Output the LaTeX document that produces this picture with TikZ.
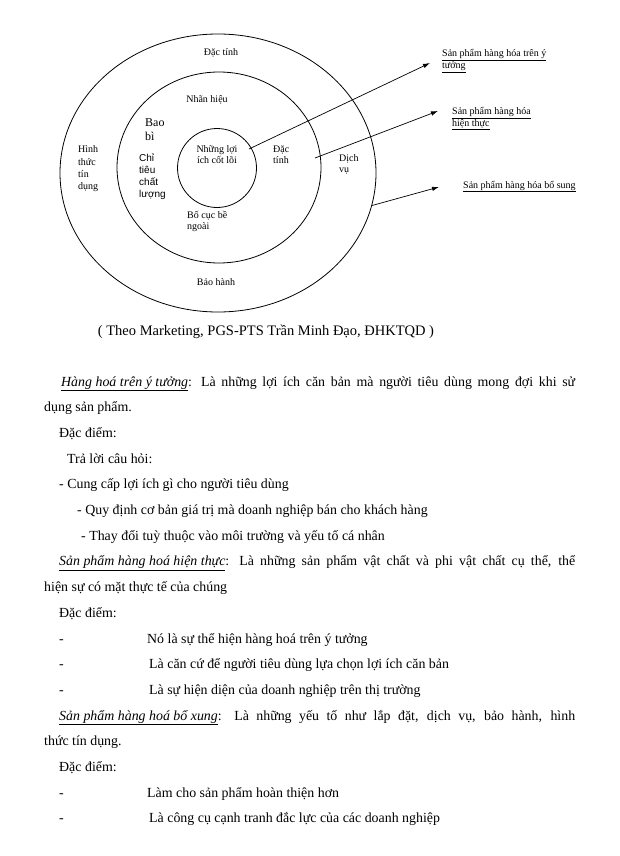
\documentclass[tikz,border=0pt]{standalone}
\usepackage{fontspec}
\setmainfont{Liberation Serif}
\newfontfamily\arialfont{Liberation Sans}
\usetikzlibrary{arrows.meta,shapes.geometric,positioning}

\newcommand{\bodyfont}{\fontsize{13.9}{17}\selectfont}
\newcommand{\diagfont}{\fontsize{10}{11.5}\selectfont}

\begin{document}
\begin{tikzpicture}[x=1pt, y=-1pt,
	ring/.style={draw, line width=0.8pt, inner sep=0pt, outer sep=0pt},
	lbl/.style={font=\diagfont, inner sep=0pt, align=left},
	pointer/.style={-{Latex[length=7pt, width=4.5pt]}, line width=0.7pt},
	txt/.style={anchor=base west, inner sep=0pt, font=\bodyfont}]
	\useasboundingbox (0,0) rectangle (620,856);
	% ba vòng sản phẩm
	\node[ring, ellipse, minimum width=316pt, minimum height=278pt] (outer) at (218,173) {};
	\node[ring, ellipse, minimum width=204pt, minimum height=191pt] (middle) at (219,167.5) {};
	\node[ring, circle, minimum size=79pt] (core) at (217,168) {};
	% nhãn trong sơ đồ (base = dòng cuối)
	\node[lbl] (dactinh1) at (221,53) {Đặc tính};
	\node[lbl] (nhanhieu) at (207,100) {Nhãn hiệu};
	\node[lbl, anchor=base west, font=\fontsize{12}{14}\selectfont] (baobi) at (145,140) {Bao\\bì};
	\node[lbl, anchor=base west, font=\arialfont\fontsize{10}{12}\selectfont] (chitieu) at (139,197) {Chỉ\\tiêu\\chất\\lượng};
	\node[lbl, anchor=base west, font=\fontsize{10}{12}\selectfont] (hinhthuc) at (78,189) {Hình\\thức\\tín\\dụng};
	\node[lbl, anchor=base, align=center] (loiich) at (217,163.5) {Những lợi\\ích cốt lõi};
	\node[lbl, anchor=base west] (dactinh2) at (273,163.5) {Đặc\\tính};
	\node[lbl, anchor=base west] (dichvu) at (339,172.5) {Dịch\\vụ};
	\node[lbl, anchor=base west] (bocuc) at (187,229.5) {Bố cục bề\\ngoài};
	\node[lbl] (baohanh) at (216,282) {Bảo hành};
	% chú thích bên phải
	\node[lbl, anchor=base west] (ytuong) at (442,68.5) {\underline{Sản phẩm hàng hóa trên ý}\\\underline{tưởng}};
	\node[lbl, anchor=base west] (hienthuc) at (452,126.5) {\underline{Sản phẩm hàng hóa}\\\underline{hiện thực}};
	\node[lbl, anchor=base west] (bosung) at (463,188) {\underline{Sản phẩm hàng hóa bổ sung}};
	\coordinate (s1) at (249,149);
	\coordinate (s2) at (315,158);
	\coordinate (t1) at (430,63);
	\coordinate (t2) at (438,111);
	\coordinate (t3) at (439,187);
	\draw[pointer] (s1) -- (t1);
	\draw[pointer] (s2) -- (t2);
	\draw[pointer] (outer.-12) -- (t3);
	% nguồn
	\node[font=\fontsize{14.5}{17}\selectfont, inner sep=0pt] (nguon) at (266,332) {( Theo Marketing, PGS-PTS Trần Minh Đạo, ĐHKTQD )};
	% phần văn bản
	\node[txt] (l1) at (61,386) {\makebox[514pt][s]{\underline{\textit{Hàng hoá trên ý tưởng}}: Là những lợi ích căn bản mà người tiêu dùng mong đợi khi sử}};
	\node[txt] (l2) at (44,411.7) {dụng sản phẩm.};
	\node[txt] (l3) at (59,437.4) {Đặc điểm:};
	\node[txt] (l4) at (67,463.1) {Trả lời câu hỏi:};
	\node[txt] (l5) at (59,488.8) {- Cung cấp lợi ích gì cho người tiêu dùng};
	\node[txt] (l6) at (77,514.5) {- Quy định cơ bản giá trị mà doanh nghiệp bán cho khách hàng};
	\node[txt] (l7) at (81,540.2) {- Thay đổi tuỳ thuộc vào môi trường và yếu tố cá nhân};
	\node[txt] (l8) at (59,565.9) {\makebox[516pt][s]{\underline{\textit{Sản phẩm hàng hoá hiện thực}}: Là những sản phẩm vật chất và phi vật chất cụ thể, thể}};
	\node[txt] (l9) at (44,591.6) {hiện sự có mặt thực tế của chúng};
	\node[txt] (l10) at (59,617.3) {Đặc điểm:};
	\node[txt] (d11) at (59,643) {-};
	\node[txt] (l11) at (147,643) {Nó là sự thể hiện hàng hoá trên ý tưởng};
	\node[txt] (d12) at (59,668.7) {-};
	\node[txt] (l12) at (149,668.7) {Là căn cứ để người tiêu dùng lựa chọn lợi ích căn bản};
	\node[txt] (d13) at (59,694.4) {-};
	\node[txt] (l13) at (149,694.4) {Là sự hiện diện của doanh nghiệp trên thị trường};
	\node[txt] (l14) at (59,720.1) {\makebox[516pt][s]{\underline{\textit{Sản phẩm hàng hoá bổ xung}}: Là những yếu tố như lắp đặt, dịch vụ, bảo hành, hình}};
	\node[txt] (l15) at (44,745.8) {thức tín dụng.};
	\node[txt] (l16) at (59,771.5) {Đặc điểm:};
	\node[txt] (d17) at (59,797.2) {-};
	\node[txt] (l17) at (147,797.2) {Làm cho sản phẩm hoàn thiện hơn};
	\node[txt] (d18) at (59,822.9) {-};
	\node[txt] (l18) at (149,822.9) {Là công cụ cạnh tranh đắc lực của các doanh nghiệp};
\end{tikzpicture}
\end{document}
